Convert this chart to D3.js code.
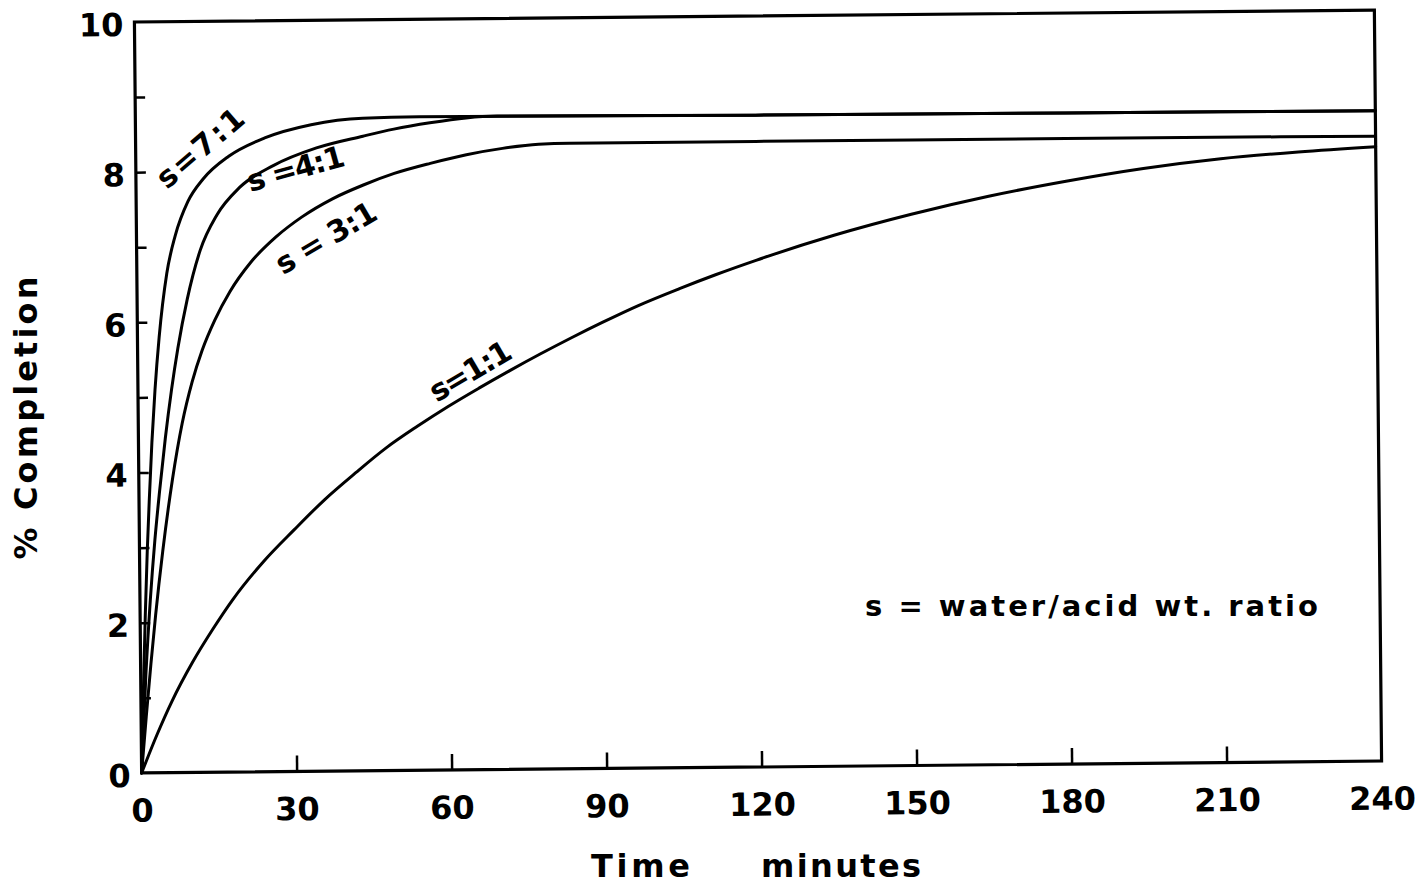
<!DOCTYPE html>
<html><head><meta charset="utf-8">
<script src="https://cdn.jsdelivr.net/npm/d3@7"></script>
<style>
html,body{margin:0;padding:0;background:#fff;}
svg{display:block;}
text{font-family:"DejaVu Sans","Liberation Sans",Arial,sans-serif;font-weight:bold;fill:#000;}
</style></head>
<body>
<svg id="chart" width="1427" height="886"></svg>
<script>
// ---- data ----
const time71 = [0,0.5,1,1.5,2,2.6,3.3,4.2,5.8,7.5,10,13,18,25,34,44,55,120,180,240];
const s71    = [0,1.1,2.1,2.95,3.65,4.4,5.1,5.8,6.65,7.15,7.6,7.9,8.2,8.44,8.61,8.69,8.70,8.68,8.67,8.66];

const time41 = [0,1,2,3,4,5.2,6.5,7.8,9.7,12.3,15.6,20,26.6,35,44,50,57,64,70,120,180,240];
const s41    = [0,1.3,2.3,3.1,3.75,4.45,5.1,5.65,6.3,6.95,7.42,7.78,8.07,8.3,8.45,8.54,8.62,8.68,8.70,8.68,8.67,8.66];

const time31 = [0,1,2,3,4.5,6.5,8.5,10.5,12.5,15,18,22,27,32,38,44,50,57,64,71,78,84,120,180,240];
const s31    = [0,0.75,1.45,2.1,2.95,3.9,4.65,5.2,5.62,6.02,6.4,6.78,7.12,7.38,7.62,7.8,7.95,8.08,8.19,8.27,8.32,8.33,8.33,8.33,8.32];

const time11 = [0,3,6,10,14,18,24,30,36,42,48,54,60,66,72,78,84,90,97,105,112,120,135,150,165,180,195,210,225,240];
const s11    = [0,0.5,0.95,1.46,1.9,2.3,2.8,3.22,3.62,3.97,4.3,4.58,4.84,5.08,5.31,5.53,5.74,5.94,6.16,6.38,6.56,6.75,7.07,7.34,7.57,7.76,7.92,8.04,8.12,8.18];

const seriesNames = ["s=7:1","s =4:1","s = 3:1","s=1:1"];
const xTicks = [0,30,60,90,120,150,180,210,240];
const yTicks = [0,1,2,3,4,5,6,7,8,9,10];
const yTickLabels = [0,2,4,6,8,10];

// label anchors (data units) and angles
const labelT = [6.0, 22.1, 28.3, 57.8];
const labelV = [7.76, 7.72, 6.61, 4.89];
const labelAngle = [-40, -15, -30, -30];
const labelLen = [105, 100, 112, 90];

const xTitle1 = "Time", xTitle2 = "minutes";
const yTitle = "% Completion";
const noteText = "s = water/acid  wt. ratio";

// ---- layout ----
const L = 138, R = 1378, T = 16, B = 767;
const svg = d3.select("#chart");
const g = svg.append("g").attr("transform", "rotate(-0.55,758,391.5)");

const x = d3.scaleLinear().domain([0,240]).range([L,R]);
const y = d3.scaleLinear().domain([0,10]).range([B,T]);

// frame
g.append("rect").attr("x",L).attr("y",T).attr("width",R-L).attr("height",B-T)
  .attr("fill","none").attr("stroke","#000").attr("stroke-width",3.2);

// x axis
const xAxis = d3.axisBottom(x).tickValues(xTicks).tickSizeInner(-16).tickSizeOuter(0).tickPadding(26)
  .tickFormat(d3.format("d"));
const gx = g.append("g").attr("transform",`translate(0,${B})`).call(xAxis);
gx.select(".domain").remove();
gx.selectAll(".tick line").attr("stroke","#000").attr("stroke-width",2.5)
  .filter(d => d===0 || d===240).remove();
gx.selectAll(".tick text").attr("font-size",32).attr("font-family",null);

// y axis
const yAxis = d3.axisLeft(y).tickValues(yTicks).tickSizeInner(-10).tickSizeOuter(0).tickPadding(11)
  .tickFormat(d => yTickLabels.includes(d) ? d : "");
const gy = g.append("g").attr("transform",`translate(${L},0)`).call(yAxis);
gy.select(".domain").remove();
gy.selectAll(".tick line").attr("stroke","#000").attr("stroke-width",2.5)
  .filter(d => d===0 || d===10).remove();
gy.selectAll(".tick text").attr("font-size",32).attr("font-family",null).attr("dy","0.42em");

// curves
const line = d3.line().x(d => x(d[0])).y(d => y(d[1])).curve(d3.curveMonotoneX);
const series = [
  d3.zip(time71, s71),
  d3.zip(time41, s41),
  d3.zip(time31, s31),
  d3.zip(time11, s11)
];
g.selectAll("path.curve").data(series).join("path").attr("class","curve")
  .attr("d", line).attr("fill","none").attr("stroke","#000")
  .attr("stroke-width",3).attr("stroke-linejoin","round").attr("stroke-linecap","round");

// curve labels
seriesNames.forEach((name,i) => {
  g.append("text")
    .attr("transform", `translate(${x(labelT[i])},${y(labelV[i])}) rotate(${labelAngle[i]})`)
    .attr("font-size",30).attr("textLength",labelLen[i]).attr("lengthAdjust","spacing")
    .text(name);
});

// titles
svg.append("text").attr("x",591).attr("y",877).attr("font-size",32)
  .attr("textLength",99).attr("lengthAdjust","spacing").text(xTitle1);
svg.append("text").attr("x",761).attr("y",877).attr("font-size",32)
  .attr("textLength",160).attr("lengthAdjust","spacing").text(xTitle2);
svg.append("text").attr("transform","translate(37,418) rotate(-90)").attr("text-anchor","middle")
  .attr("font-size",32).attr("textLength",283).attr("lengthAdjust","spacing").text(yTitle);
svg.append("text").attr("x",865).attr("y",616).attr("font-size",29)
  .attr("textLength",453).attr("lengthAdjust","spacing").text(noteText);
</script>
</body></html>
